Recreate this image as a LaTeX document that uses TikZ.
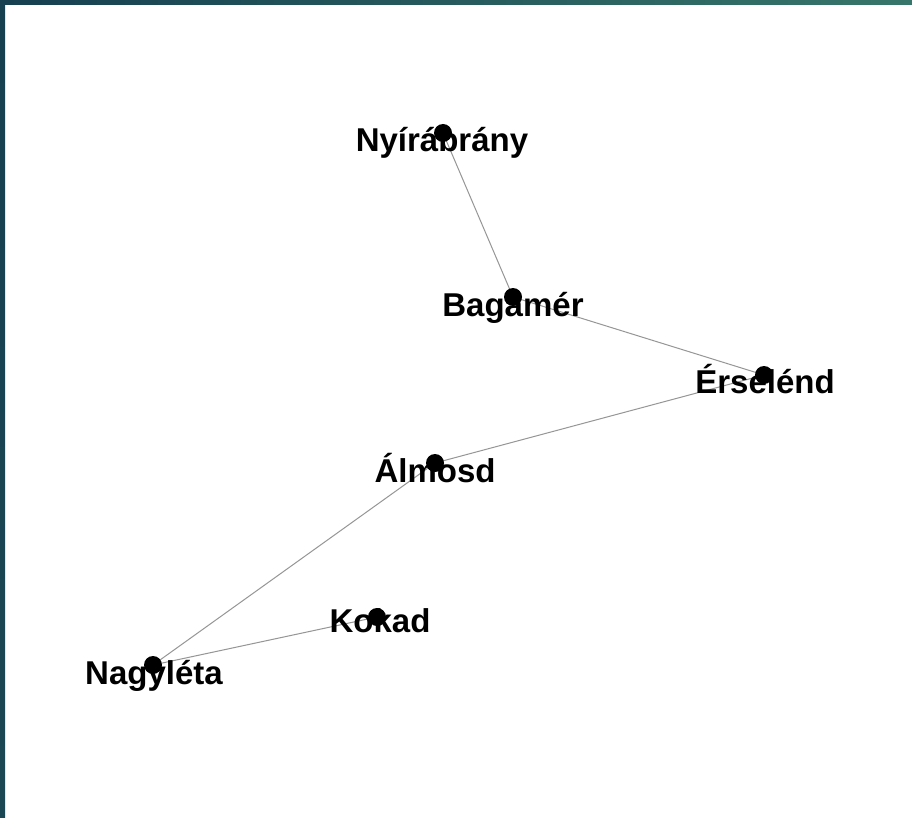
\documentclass[tikz,border=0pt]{standalone}
\usepackage{fontspec}
\setmainfont{Liberation Sans}
\definecolor{tealdark}{HTML}{163F50}
\definecolor{teallight}{HTML}{37766A}
\definecolor{edgegray}{HTML}{969696}
\begin{document}
\begin{tikzpicture}[x=1pt,y=-1pt,
  vdot/.style={circle,fill=black,inner sep=0pt,minimum size=18pt},
  vlabel/.style={font=\fontsize{33}{38}\selectfont\bfseries,anchor=base,inner sep=0pt,text=black},
  link/.style={draw=edgegray,line width=1pt}]
\useasboundingbox (0,0) rectangle (912,818);
\fill[white] (0,0) rectangle (912,818);
% frame strips
\shade[left color=tealdark,right color=teallight] (0,0) rectangle (912,4.7);
\shade[top color=tealdark,bottom color=tealdark!85!teallight] (0,0) rectangle (5,818);
% vertex positions
\coordinate (pN) at (443,133);
\coordinate (pB) at (513,297);
\coordinate (pE) at (764,375);
\coordinate (pA) at (435,463);
\coordinate (pK) at (377,617);
\coordinate (pG) at (153,665);
% edges
\draw[link] (pN) -- (pB);
\draw[link] (pB) -- (pE);
\draw[link] (pE) -- (pA);
\draw[link] (pA) -- (pG);
\draw[link] (pG) -- (pK);
% labels
\node[vlabel] (lN) at (442,152) {Nyírábrány};
\node[vlabel] (lB) at (513,316) {Bagamér};
\node[vlabel] (lE) at (765,393) {Érselénd};
\node[vlabel] (lA) at (435,482) {Álmosd};
\node[vlabel] (lK) at (380,632) {Kokad};
\node[vlabel] (lG) at (154,684) {Nagyléta};
% dots
\node[vdot] (N) at (pN) {};
\node[vdot] (B) at (pB) {};
\node[vdot] (E) at (pE) {};
\node[vdot] (A) at (pA) {};
\node[vdot] (K) at (pK) {};
\node[vdot] (G) at (pG) {};
\end{tikzpicture}
\end{document}
